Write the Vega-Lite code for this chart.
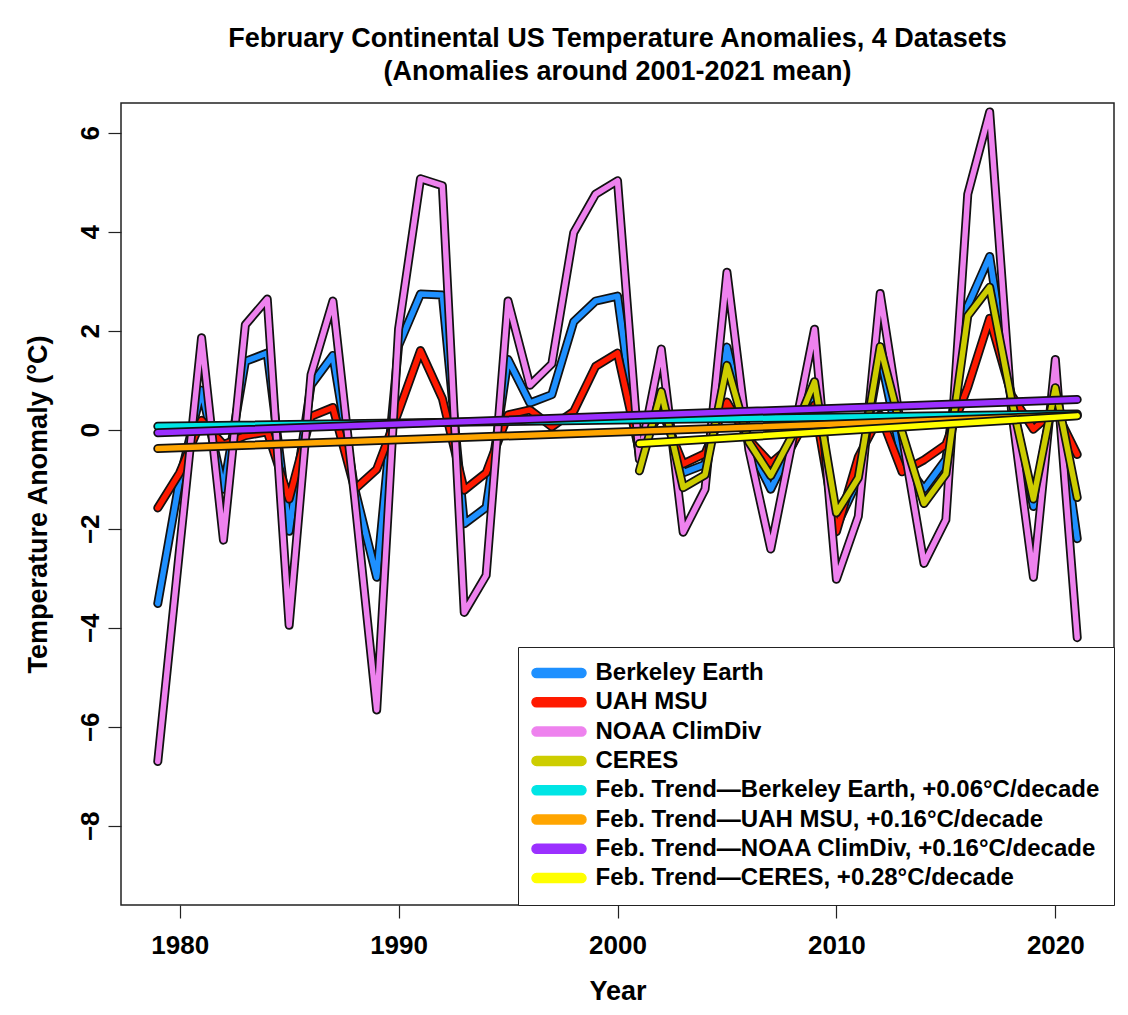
{
  "$schema": "https://vega.github.io/schema/vega-lite/v6.json",
  "width": 993,
  "height": 802,
  "autosize": {"type": "none"},
  "padding": {"left": 121, "top": 103, "right": 14, "bottom": 110},
  "background": "white",
  "config": {
    "font": "Liberation Sans",
    "view": {"stroke": "#222222", "strokeWidth": 1.5},
    "axis": {"grid": false, "domain": false, "tickColor": "#222222", "tickSize": 13, "tickWidth": 1.2, "labelColor": "black", "labelFont": "Liberation Sans", "labelFontWeight": "bold", "labelFontSize": 26, "titleFont": "Liberation Sans", "titleFontWeight": "bold", "titleFontSize": 27, "titleColor": "black"},
    "legend": {"orient": "bottom-right", "offset": 0, "strokeColor": "#222222", "fillColor": "white", "padding": 14, "labelFont": "Liberation Sans", "labelFontSize": 24, "labelFontWeight": "bold", "labelColor": "black", "rowPadding": 5.3, "cornerRadius": 0, "labelLimit": 800}
  },
  "title": {"text": ["February Continental US Temperature Anomalies, 4 Datasets", "(Anomalies around 2001-2021 mean)"], "fontSize": 27, "fontWeight": "bold", "font": "Liberation Sans", "anchor": "middle", "offset": 17.5, "lineHeight": 33, "color": "black"},
  "data": {"values": [
    {"series": "Berkeley Earth", "year": 1979, "value": -3.51},
    {"series": "Berkeley Earth", "year": 1980, "value": -1.0},
    {"series": "Berkeley Earth", "year": 1981, "value": 0.8},
    {"series": "Berkeley Earth", "year": 1982, "value": -1.2},
    {"series": "Berkeley Earth", "year": 1983, "value": 1.38},
    {"series": "Berkeley Earth", "year": 1984, "value": 1.55},
    {"series": "Berkeley Earth", "year": 1985, "value": -2.05},
    {"series": "Berkeley Earth", "year": 1986, "value": 0.9},
    {"series": "Berkeley Earth", "year": 1987, "value": 1.5},
    {"series": "Berkeley Earth", "year": 1988, "value": -1.2},
    {"series": "Berkeley Earth", "year": 1989, "value": -2.98},
    {"series": "Berkeley Earth", "year": 1990, "value": 1.7},
    {"series": "Berkeley Earth", "year": 1991, "value": 2.74},
    {"series": "Berkeley Earth", "year": 1992, "value": 2.72},
    {"series": "Berkeley Earth", "year": 1993, "value": -1.9},
    {"series": "Berkeley Earth", "year": 1994, "value": -1.57},
    {"series": "Berkeley Earth", "year": 1995, "value": 1.42},
    {"series": "Berkeley Earth", "year": 1996, "value": 0.54},
    {"series": "Berkeley Earth", "year": 1997, "value": 0.71},
    {"series": "Berkeley Earth", "year": 1998, "value": 2.18},
    {"series": "Berkeley Earth", "year": 1999, "value": 2.6},
    {"series": "Berkeley Earth", "year": 2000, "value": 2.7},
    {"series": "Berkeley Earth", "year": 2001, "value": -0.55},
    {"series": "Berkeley Earth", "year": 2002, "value": 0.6},
    {"series": "Berkeley Earth", "year": 2003, "value": -0.87},
    {"series": "Berkeley Earth", "year": 2004, "value": -0.7},
    {"series": "Berkeley Earth", "year": 2005, "value": 1.67},
    {"series": "Berkeley Earth", "year": 2006, "value": -0.3},
    {"series": "Berkeley Earth", "year": 2007, "value": -1.2},
    {"series": "Berkeley Earth", "year": 2008, "value": -0.3},
    {"series": "Berkeley Earth", "year": 2009, "value": 0.8},
    {"series": "Berkeley Earth", "year": 2010, "value": -1.95},
    {"series": "Berkeley Earth", "year": 2011, "value": -1.0},
    {"series": "Berkeley Earth", "year": 2012, "value": 1.5},
    {"series": "Berkeley Earth", "year": 2013, "value": -0.6},
    {"series": "Berkeley Earth", "year": 2014, "value": -1.2},
    {"series": "Berkeley Earth", "year": 2015, "value": -0.6},
    {"series": "Berkeley Earth", "year": 2016, "value": 2.5},
    {"series": "Berkeley Earth", "year": 2017, "value": 3.5},
    {"series": "Berkeley Earth", "year": 2018, "value": 0.6},
    {"series": "Berkeley Earth", "year": 2019, "value": -1.55},
    {"series": "Berkeley Earth", "year": 2020, "value": 0.9},
    {"series": "Berkeley Earth", "year": 2021, "value": -2.2},
    {"series": "UAH MSU", "year": 1979, "value": -1.58},
    {"series": "UAH MSU", "year": 1980, "value": -0.87},
    {"series": "UAH MSU", "year": 1981, "value": 0.19},
    {"series": "UAH MSU", "year": 1982, "value": -0.3},
    {"series": "UAH MSU", "year": 1983, "value": -0.12},
    {"series": "UAH MSU", "year": 1984, "value": -0.04},
    {"series": "UAH MSU", "year": 1985, "value": -1.4},
    {"series": "UAH MSU", "year": 1986, "value": 0.27},
    {"series": "UAH MSU", "year": 1987, "value": 0.45},
    {"series": "UAH MSU", "year": 1988, "value": -1.2},
    {"series": "UAH MSU", "year": 1989, "value": -0.8},
    {"series": "UAH MSU", "year": 1990, "value": 0.37},
    {"series": "UAH MSU", "year": 1991, "value": 1.6},
    {"series": "UAH MSU", "year": 1992, "value": 0.63},
    {"series": "UAH MSU", "year": 1993, "value": -1.22},
    {"series": "UAH MSU", "year": 1994, "value": -0.87},
    {"series": "UAH MSU", "year": 1995, "value": 0.3},
    {"series": "UAH MSU", "year": 1996, "value": 0.4},
    {"series": "UAH MSU", "year": 1997, "value": 0.06},
    {"series": "UAH MSU", "year": 1998, "value": 0.37},
    {"series": "UAH MSU", "year": 1999, "value": 1.28},
    {"series": "UAH MSU", "year": 2000, "value": 1.55},
    {"series": "UAH MSU", "year": 2001, "value": -0.45},
    {"series": "UAH MSU", "year": 2002, "value": 0.4},
    {"series": "UAH MSU", "year": 2003, "value": -0.69},
    {"series": "UAH MSU", "year": 2004, "value": -0.48},
    {"series": "UAH MSU", "year": 2005, "value": 0.56},
    {"series": "UAH MSU", "year": 2006, "value": -0.2},
    {"series": "UAH MSU", "year": 2007, "value": -0.68},
    {"series": "UAH MSU", "year": 2008, "value": -0.3},
    {"series": "UAH MSU", "year": 2009, "value": 0.5},
    {"series": "UAH MSU", "year": 2010, "value": -2.06},
    {"series": "UAH MSU", "year": 2011, "value": -0.55},
    {"series": "UAH MSU", "year": 2012, "value": 0.3},
    {"series": "UAH MSU", "year": 2013, "value": -0.85},
    {"series": "UAH MSU", "year": 2014, "value": -0.61},
    {"series": "UAH MSU", "year": 2015, "value": -0.3},
    {"series": "UAH MSU", "year": 2016, "value": 0.86},
    {"series": "UAH MSU", "year": 2017, "value": 2.25},
    {"series": "UAH MSU", "year": 2018, "value": 0.7},
    {"series": "UAH MSU", "year": 2019, "value": 0.01},
    {"series": "UAH MSU", "year": 2020, "value": 0.4},
    {"series": "UAH MSU", "year": 2021, "value": -0.5},
    {"series": "NOAA ClimDiv", "year": 1979, "value": -6.7},
    {"series": "NOAA ClimDiv", "year": 1980, "value": -2.4},
    {"series": "NOAA ClimDiv", "year": 1981, "value": 1.86},
    {"series": "NOAA ClimDiv", "year": 1982, "value": -2.23},
    {"series": "NOAA ClimDiv", "year": 1983, "value": 2.12},
    {"series": "NOAA ClimDiv", "year": 1984, "value": 2.64},
    {"series": "NOAA ClimDiv", "year": 1985, "value": -3.95},
    {"series": "NOAA ClimDiv", "year": 1986, "value": 1.11},
    {"series": "NOAA ClimDiv", "year": 1987, "value": 2.6},
    {"series": "NOAA ClimDiv", "year": 1988, "value": -1.4},
    {"series": "NOAA ClimDiv", "year": 1989, "value": -5.66},
    {"series": "NOAA ClimDiv", "year": 1990, "value": 2.03},
    {"series": "NOAA ClimDiv", "year": 1991, "value": 5.07},
    {"series": "NOAA ClimDiv", "year": 1992, "value": 4.93},
    {"series": "NOAA ClimDiv", "year": 1993, "value": -3.69},
    {"series": "NOAA ClimDiv", "year": 1994, "value": -2.94},
    {"series": "NOAA ClimDiv", "year": 1995, "value": 2.6},
    {"series": "NOAA ClimDiv", "year": 1996, "value": 0.9},
    {"series": "NOAA ClimDiv", "year": 1997, "value": 1.33},
    {"series": "NOAA ClimDiv", "year": 1998, "value": 3.98},
    {"series": "NOAA ClimDiv", "year": 1999, "value": 4.76},
    {"series": "NOAA ClimDiv", "year": 2000, "value": 5.03},
    {"series": "NOAA ClimDiv", "year": 2001, "value": -0.6},
    {"series": "NOAA ClimDiv", "year": 2002, "value": 1.63},
    {"series": "NOAA ClimDiv", "year": 2003, "value": -2.07},
    {"series": "NOAA ClimDiv", "year": 2004, "value": -1.2},
    {"series": "NOAA ClimDiv", "year": 2005, "value": 3.18},
    {"series": "NOAA ClimDiv", "year": 2006, "value": -0.4},
    {"series": "NOAA ClimDiv", "year": 2007, "value": -2.41},
    {"series": "NOAA ClimDiv", "year": 2008, "value": -0.2},
    {"series": "NOAA ClimDiv", "year": 2009, "value": 2.03},
    {"series": "NOAA ClimDiv", "year": 2010, "value": -3.02},
    {"series": "NOAA ClimDiv", "year": 2011, "value": -1.75},
    {"series": "NOAA ClimDiv", "year": 2012, "value": 2.75},
    {"series": "NOAA ClimDiv", "year": 2013, "value": -0.1},
    {"series": "NOAA ClimDiv", "year": 2014, "value": -2.7},
    {"series": "NOAA ClimDiv", "year": 2015, "value": -1.82},
    {"series": "NOAA ClimDiv", "year": 2016, "value": 4.76},
    {"series": "NOAA ClimDiv", "year": 2017, "value": 6.42},
    {"series": "NOAA ClimDiv", "year": 2018, "value": 0.4},
    {"series": "NOAA ClimDiv", "year": 2019, "value": -2.98},
    {"series": "NOAA ClimDiv", "year": 2020, "value": 1.42},
    {"series": "NOAA ClimDiv", "year": 2021, "value": -4.2},
    {"series": "CERES", "year": 2001, "value": -0.83},
    {"series": "CERES", "year": 2002, "value": 0.77},
    {"series": "CERES", "year": 2003, "value": -1.17},
    {"series": "CERES", "year": 2004, "value": -0.91},
    {"series": "CERES", "year": 2005, "value": 1.3},
    {"series": "CERES", "year": 2006, "value": -0.25},
    {"series": "CERES", "year": 2007, "value": -0.93},
    {"series": "CERES", "year": 2008, "value": -0.1},
    {"series": "CERES", "year": 2009, "value": 0.97},
    {"series": "CERES", "year": 2010, "value": -1.68},
    {"series": "CERES", "year": 2011, "value": -0.97},
    {"series": "CERES", "year": 2012, "value": 1.68},
    {"series": "CERES", "year": 2013, "value": -0.05},
    {"series": "CERES", "year": 2014, "value": -1.49},
    {"series": "CERES", "year": 2015, "value": -0.89},
    {"series": "CERES", "year": 2016, "value": 2.3},
    {"series": "CERES", "year": 2017, "value": 2.88},
    {"series": "CERES", "year": 2018, "value": 0.6},
    {"series": "CERES", "year": 2019, "value": -1.4},
    {"series": "CERES", "year": 2020, "value": 0.85},
    {"series": "CERES", "year": 2021, "value": -1.37},
    {"series": "Feb. Trend—Berkeley Earth, +0.06°C/decade", "year": 1979, "value": 0.07},
    {"series": "Feb. Trend—Berkeley Earth, +0.06°C/decade", "year": 2021, "value": 0.32},
    {"series": "Feb. Trend—UAH MSU, +0.16°C/decade", "year": 1979, "value": -0.38},
    {"series": "Feb. Trend—UAH MSU, +0.16°C/decade", "year": 2021, "value": 0.29},
    {"series": "Feb. Trend—NOAA ClimDiv, +0.16°C/decade", "year": 1979, "value": -0.06},
    {"series": "Feb. Trend—NOAA ClimDiv, +0.16°C/decade", "year": 2021, "value": 0.61},
    {"series": "Feb. Trend—CERES, +0.28°C/decade", "year": 2001, "value": -0.28},
    {"series": "Feb. Trend—CERES, +0.28°C/decade", "year": 2021, "value": 0.28}
  ]},
  "encoding": {
    "x": {"field": "year", "type": "quantitative", "scale": {"domain": [1977.32, 2022.68], "nice": false, "zero": false}, "axis": {"values": [1980, 1990, 2000, 2010, 2020], "format": "d", "labelPadding": 14, "title": "Year", "titlePadding": 20}},
    "y": {"field": "value", "type": "quantitative", "scale": {"domain": [-9.6, 6.6], "nice": false, "zero": false}, "axis": {"values": [-8, -6, -4, -2, 0, 2, 4, 6], "labelAngle": 270, "labelAlign": "center", "labelBaseline": "bottom", "labelPadding": 5, "title": "Temperature Anomaly (°C)", "titlePadding": 25}},
    "color": {"field": "series", "type": "nominal", "scale": {"domain": ["Berkeley Earth", "UAH MSU", "NOAA ClimDiv", "CERES", "Feb. Trend—Berkeley Earth, +0.06°C/decade", "Feb. Trend—UAH MSU, +0.16°C/decade", "Feb. Trend—NOAA ClimDiv, +0.16°C/decade", "Feb. Trend—CERES, +0.28°C/decade"], "range": ["#1E90FF", "#FF1A00", "#EE82EE", "#CDCD00", "#00E5E5", "#FFA500", "#9B30FF", "#FFFF00"]}, "legend": {"title": null, "symbolType": "M -2.5 -0.5 L 2.5 -0.5 A 0.5 0.5 0 0 1 2.5 0.5 L -2.5 0.5 A 0.5 0.5 0 0 1 -2.5 -0.5 Z", "symbolSize": 324, "symbolStrokeWidth": 1.5, "symbolStrokeColor": "#111111", "symbolOffset": 15, "labelOffset": 24.5, "symbolOpacity": 1, "encode": {"symbols": {"update": {"fill": {"scale": "color", "field": "value"}, "stroke": {"value": "#111111"}, "strokeWidth": {"value": 1.5}, "opacity": {"value": 1}}}}}}
  },
  "layer": [
    {"transform": [{"filter": {"field": "series", "equal": "Berkeley Earth"}}], "mark": {"type": "line", "strokeWidth": 9, "strokeJoin": "round", "strokeCap": "round"}, "encoding": {"color": {"value": "#111111"}}},
    {"transform": [{"filter": {"field": "series", "equal": "Berkeley Earth"}}], "mark": {"type": "line", "strokeWidth": 5.5, "strokeJoin": "round", "strokeCap": "round"}},
    {"transform": [{"filter": {"field": "series", "equal": "UAH MSU"}}], "mark": {"type": "line", "strokeWidth": 9, "strokeJoin": "round", "strokeCap": "round"}, "encoding": {"color": {"value": "#111111"}}},
    {"transform": [{"filter": {"field": "series", "equal": "UAH MSU"}}], "mark": {"type": "line", "strokeWidth": 5.5, "strokeJoin": "round", "strokeCap": "round"}},
    {"transform": [{"filter": {"field": "series", "equal": "NOAA ClimDiv"}}], "mark": {"type": "line", "strokeWidth": 9, "strokeJoin": "round", "strokeCap": "round"}, "encoding": {"color": {"value": "#111111"}}},
    {"transform": [{"filter": {"field": "series", "equal": "NOAA ClimDiv"}}], "mark": {"type": "line", "strokeWidth": 5.5, "strokeJoin": "round", "strokeCap": "round"}},
    {"transform": [{"filter": {"field": "series", "equal": "CERES"}}], "mark": {"type": "line", "strokeWidth": 9, "strokeJoin": "round", "strokeCap": "round"}, "encoding": {"color": {"value": "#111111"}}},
    {"transform": [{"filter": {"field": "series", "equal": "CERES"}}], "mark": {"type": "line", "strokeWidth": 5.5, "strokeJoin": "round", "strokeCap": "round"}},
    {"transform": [{"filter": {"field": "series", "equal": "Feb. Trend—Berkeley Earth, +0.06°C/decade"}}], "mark": {"type": "line", "strokeWidth": 9, "strokeJoin": "round", "strokeCap": "round"}, "encoding": {"color": {"value": "#111111"}}},
    {"transform": [{"filter": {"field": "series", "equal": "Feb. Trend—Berkeley Earth, +0.06°C/decade"}}], "mark": {"type": "line", "strokeWidth": 5.5, "strokeJoin": "round", "strokeCap": "round"}},
    {"transform": [{"filter": {"field": "series", "equal": "Feb. Trend—UAH MSU, +0.16°C/decade"}}], "mark": {"type": "line", "strokeWidth": 9, "strokeJoin": "round", "strokeCap": "round"}, "encoding": {"color": {"value": "#111111"}}},
    {"transform": [{"filter": {"field": "series", "equal": "Feb. Trend—UAH MSU, +0.16°C/decade"}}], "mark": {"type": "line", "strokeWidth": 5.5, "strokeJoin": "round", "strokeCap": "round"}},
    {"transform": [{"filter": {"field": "series", "equal": "Feb. Trend—NOAA ClimDiv, +0.16°C/decade"}}], "mark": {"type": "line", "strokeWidth": 9, "strokeJoin": "round", "strokeCap": "round"}, "encoding": {"color": {"value": "#111111"}}},
    {"transform": [{"filter": {"field": "series", "equal": "Feb. Trend—NOAA ClimDiv, +0.16°C/decade"}}], "mark": {"type": "line", "strokeWidth": 5.5, "strokeJoin": "round", "strokeCap": "round"}},
    {"transform": [{"filter": {"field": "series", "equal": "Feb. Trend—CERES, +0.28°C/decade"}}], "mark": {"type": "line", "strokeWidth": 9, "strokeJoin": "round", "strokeCap": "round"}, "encoding": {"color": {"value": "#111111"}}},
    {"transform": [{"filter": {"field": "series", "equal": "Feb. Trend—CERES, +0.28°C/decade"}}], "mark": {"type": "line", "strokeWidth": 5.5, "strokeJoin": "round", "strokeCap": "round"}}
  ]
}
